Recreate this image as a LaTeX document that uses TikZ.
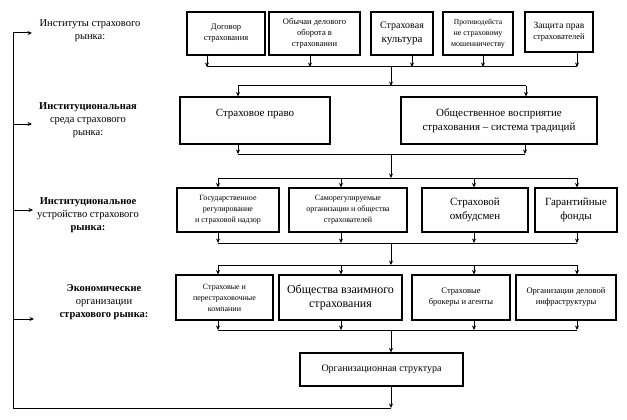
\documentclass[tikz,border=0pt]{standalone}
\usepackage{fontspec}
\setmainfont{Liberation Serif}
\usetikzlibrary{positioning, arrows.meta}
\tikzset{
    rowbox/.style={rectangle, draw=black, line width=1.1pt, align=center, inner sep=1pt},
    rowone/.style={rowbox, minimum height=43pt},
    rowtwo/.style={rowbox, minimum height=47pt, font=\fontsize{11}{13.5}\selectfont},
    rowthree/.style={rowbox, minimum height=44pt},
    rowfour/.style={rowbox, minimum height=45pt},
    tinytxt/.style={font=\fontsize{8}{11}\selectfont},
    smalltxt/.style={font=\fontsize{8.5}{11}\selectfont},
    bigtxt/.style={font=\fontsize{11}{13.5}\selectfont},
    levellbl/.style={align=center, font=\fontsize{10.5}{13}\selectfont, inner sep=1pt},
    arr/.style={-{Stealth[length=4.5pt, width=4pt]}, line width=1pt},
    bus/.style={line width=1pt}
}
\begin{document}
\begin{tikzpicture}[x=1pt, y=-1pt]
        \useasboundingbox (0,0) rectangle (627,420);
        % left labels
        \node[levellbl] (lblinst)  at (90, 31)  {Институты страхового\\рынка:};
        \node[levellbl] (lblsreda) at (88, 120) {\textbf{Институциональная}\\среда страхового\\рынка:};
        \node[levellbl] (lblustr)  at (88, 215) {\textbf{Институциональное}\\устройство страхового\\\textbf{рынка:}};
        \node[levellbl] (lblecon)  at (104, 302) {\textbf{Экономические}\\организации\\\textbf{страхового рынка:}};
        % row 1
        \node[rowone, smalltxt, minimum width=78pt] (dogovor)  at (226, 33.5) {Договор\\страхования};
        \node[rowone, smalltxt, minimum width=91pt] (obychai)  at (314.5, 33.5) {Обычаи делового\\оборота в\\страховании};
        \node[rowone, bigtxt, minimum width=62pt]   (kultura)  at (402, 33.5) {\fontsize{10}{12.5}\selectfont Страховая\\культура};
        \node[rowone, tinytxt, minimum width=70pt]  (protiv)   at (478, 33.5) {\fontsize{7.5}{10}\selectfont Противодейста\\не страховому\\мошенничеству};
        \node[rowone, smalltxt, minimum width=68pt, minimum height=40pt] (zaschita) at (559, 32) {\fontsize{9.5}{12}\selectfont Защита прав\\страхователей};
        % row 2
        \node[rowtwo, minimum width=150pt] (pravo) at (255, 120.5) {Страховое право\\[2pt]\mbox{}};
        \node[rowtwo, minimum width=196pt] (vospr) at (499, 120.5) {Общественное восприятие\\страхования -- система традиций};
        % row 3
        \node[rowthree, tinytxt, minimum width=102pt] (gosreg)  at (228, 210) {Государственное\\регулирование\\и страховой надзор};
        \node[rowthree, tinytxt, minimum width=118pt] (samoreg) at (348, 210) {Саморегулируемые\\организации и общества\\страхователей};
        \node[rowthree, bigtxt, minimum width=106pt]  (ombud)   at (475, 210) {Страховой\\омбудсмен};
        \node[rowthree, bigtxt, minimum width=82pt]   (garant)  at (576, 210) {Гарантийные\\фонды};
        % row 4
        \node[rowfour, tinytxt, minimum width=97pt]  (strakh) at (224.5, 297.5) {Страховые и\\перестраховочные\\компании};
        \node[rowfour, minimum width=123pt, font=\fontsize{12}{14.5}\selectfont] (obsch) at (340.5, 297.5) {Общества взаимного\\страхования};
        \node[rowfour, smalltxt, minimum width=98pt]  (broker) at (461, 297.5) {Страховые\\брокеры и агенты};
        \node[rowfour, smalltxt, minimum width=100pt] (infra)  at (566, 297.5) {Организации деловой\\инфраструктуры};
        % result
        \node[rowbox, minimum width=163pt, minimum height=33pt, font=\fontsize{10}{12}\selectfont] (orgstr) at (381.5, 369.5) {Организационная структура};

        % row 1 to row 2
        \foreach \n/\x in {dogovor/207, obychai/310, kultura/412, protiv/483, zaschita/577}
          \draw[arr] (\n.south -| \x,67) -- (\x,67);
        \draw[bus] (207,67) -- (577,67);
        \draw[arr] (391,67) -- (391,86);
        \draw[bus] (238,86) -- (526,86);
        \draw[arr] (238,86) -- (pravo.north -| 238,86);
        \draw[arr] (526,86) -- (vospr.north -| 526,86);
        % row 2 to row 3
        \draw[arr] (pravo.south -| 238,154) -- (238,154);
        \draw[arr] (vospr.south -| 525,154) -- (525,154);
        \draw[bus] (238,154) -- (525,154);
        \draw[arr] (391,154) -- (391,178);
        \draw[bus] (218,178) -- (577,178);
        \foreach \n/\x in {gosreg/218, samoreg/341, ombud/474, garant/577}
          \draw[arr] (\x,178) -- (\n.north -| \x,178);
        % row 3 to row 4
        \foreach \n/\x in {gosreg/218, samoreg/341, ombud/474, garant/577}
          \draw[arr] (\n.south -| \x,243) -- (\x,243);
        \draw[bus] (218,243) -- (577,243);
        \draw[arr] (391,243) -- (391,265);
        \draw[bus] (218,265) -- (577,265);
        \foreach \n/\x in {strakh/218, obsch/341, broker/474, infra/577}
          \draw[arr] (\x,265) -- (\n.north -| \x,265);
        % row 4 to result
        \foreach \n/\x in {strakh/218, obsch/341, broker/474, infra/577}
          \draw[arr] (\n.south -| \x,330) -- (\x,330);
        \draw[bus] (218,330) -- (577,330);
        \draw[arr] (391,330) -- (orgstr.north -| 391,330);
        % feedback loop
        \coordinate (loopend) at (391,408);
        \draw[arr] (orgstr.south -| loopend) -- (loopend);
        \draw[bus] (loopend) -- (13,408) -- (13,33);
        \draw[arr] (13,33)  -- (32,33);
        \draw[arr] (13,124) -- (32,124);
        \draw[arr] (13,210) -- (33,210);
        \draw[arr] (13,319) -- (34,319);
\end{tikzpicture}
\end{document}
